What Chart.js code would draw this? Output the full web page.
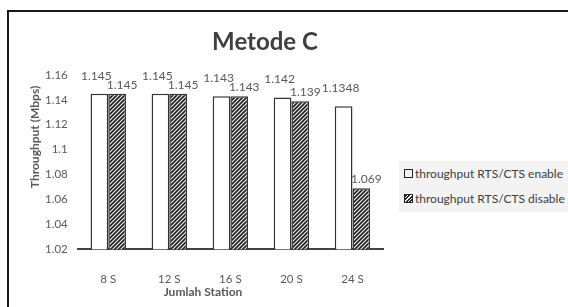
<!DOCTYPE html>
<html>
<head>
<meta charset="utf-8">
<script src="https://cdn.jsdelivr.net/npm/chart.js@4.4.1/dist/chart.umd.min.js"></script>
<style>
  html, body { margin: 0; padding: 0; background: #fff; }
  #wrap { position: relative; width: 568px; height: 307px; overflow: hidden; font-family: Lato, "Open Sans", sans-serif; }
  #frame { position: absolute; left: 7px; top: 10px; width: 600px; height: 400px; border-top: 2px solid #1a1a1a; border-left: 2px solid #1a1a1a; }
  #chartBox { position: absolute; left: 0; top: 0; width: 568px; height: 307px; }
  #title { position: absolute; left: 165px; width: 200px; top: 27px; text-align: center; font-size: 24px; font-weight: bold; color: #404040; line-height: 28px; }
  #xTitle { position: absolute; left: 143px; width: 120px; top: 284px; text-align: center; font-size: 12px; font-weight: bold; color: #595959; line-height: 16px; }
  #yTitle { position: absolute; left: -25px; width: 120px; top: 129px; text-align: center; font-size: 12px; font-weight: bold; color: #595959; line-height: 16px; transform: rotate(-90deg); }
  #legend { position: absolute; left: 399px; top: 161px; width: 169px; height: 51px; background: #f3f3f3; font-size: 12px; color: #404040; }
  .item { position: absolute; left: 5px; display: flex; align-items: center; white-space: nowrap; }
  .sw { width: 7px; height: 7px; border: 1.5px solid #222; margin-right: 2px; }
  .sw.hatch { background: repeating-linear-gradient(135deg, #222 0 1.5px, #fff 1.5px 2.5px); }
</style>
</head>
<body>
<div id="wrap">
  <div id="frame"></div>
  <div id="chartBox"><canvas id="c" width="568" height="307"></canvas></div>
  <div id="title">Metode C</div>
  <div id="xTitle">Jumlah Station</div>
  <div id="yTitle">Throughput (Mbps)</div>
  <div id="legend">
    <div class="item" style="top:5px"><span class="sw"></span>throughput RTS/CTS enable</div>
    <div class="item" style="top:30px"><span class="sw hatch"></span>throughput RTS/CTS disable</div>
  </div>
</div>
<script>
// chart data
const categories = ["8 S", "12 S", "16 S", "20 S", "24 S"];
const rtsEnable = [1.145, 1.145, 1.143, 1.142, 1.1348];
const rtsDisable = [1.145, 1.145, 1.143, 1.139, 1.069];
const seriesNames = ["throughput RTS/CTS enable", "throughput RTS/CTS disable"];

function makeHatch() {
    const t = document.createElement('canvas');
    t.width = 4; t.height = 4;
    const g = t.getContext('2d');
    g.fillStyle = '#fff';
    g.fillRect(0, 0, 4, 4);
    g.strokeStyle = '#222';
    g.lineWidth = 1.8;
    g.beginPath();
    g.moveTo(-1, 5); g.lineTo(5, -1);
    g.moveTo(-1, 1); g.lineTo(1, -1);
    g.moveTo(3, 5); g.lineTo(5, 3);
    g.stroke();
    return g.createPattern(t, 'repeat');
}

// value labels above each bar
const valueLabels = {
    id: 'valueLabels',
    afterDatasetsDraw(chart) {
        const ctx = chart.ctx;
        ctx.save();
        ctx.font = '12px Lato, "Open Sans", sans-serif';
        ctx.fillStyle = '#595959';
        ctx.textAlign = 'center';
        ctx.textBaseline = 'middle';
        chart.data.datasets.forEach((ds, i) => {
            const meta = chart.getDatasetMeta(i);
            meta.data.forEach((bar, j) => {
                const dx = i === 0 ? -3 : 5;
                const dy = i === 0 ? 18 : 9;
                ctx.fillText(String(ds.data[j]), bar.x + dx, bar.y - dy);
            });
        });
        ctx.restore();
    }
};

const ctx = document.getElementById('c').getContext('2d');
new Chart(ctx, {
    type: 'bar',
    data: {
        labels: categories,
        datasets: [
            {
                label: seriesNames[0],
                data: rtsEnable,
                backgroundColor: '#ffffff',
                borderColor: '#333',
                borderWidth: 1.5,
                categoryPercentage: 0.58,
                barPercentage: 1.0
            },
            {
                label: seriesNames[1],
                data: rtsDisable,
                backgroundColor: makeHatch(),
                borderColor: '#333',
                borderWidth: 1.5,
                categoryPercentage: 0.58,
                barPercentage: 1.0
            }
        ]
    },
    options: {
        responsive: false,
        animation: false,
        layout: { padding: { left: 35, right: 185, top: 75, bottom: -2 } },
        plugins: {
            legend: { display: false },
            tooltip: { enabled: false }
        },
        scales: {
            x: {
                grid: { display: false, drawTicks: false },
                border: { color: '#444', width: 2 },
                ticks: { color: '#595959', font: { family: 'Lato', size: 11.5 }, padding: 23 }
            },
            y: {
                min: 1.02,
                max: 1.16,
                grid: { display: false, drawTicks: false },
                border: { display: false },
                ticks: {
                    stepSize: 0.02,
                    color: '#595959',
                    font: { family: 'Lato', size: 11.5 },
                    padding: 10,
                    callback: v => String(Math.round(v * 100) / 100)
                }
            }
        }
    },
    plugins: [valueLabels]
});
</script>
</body>
</html>
